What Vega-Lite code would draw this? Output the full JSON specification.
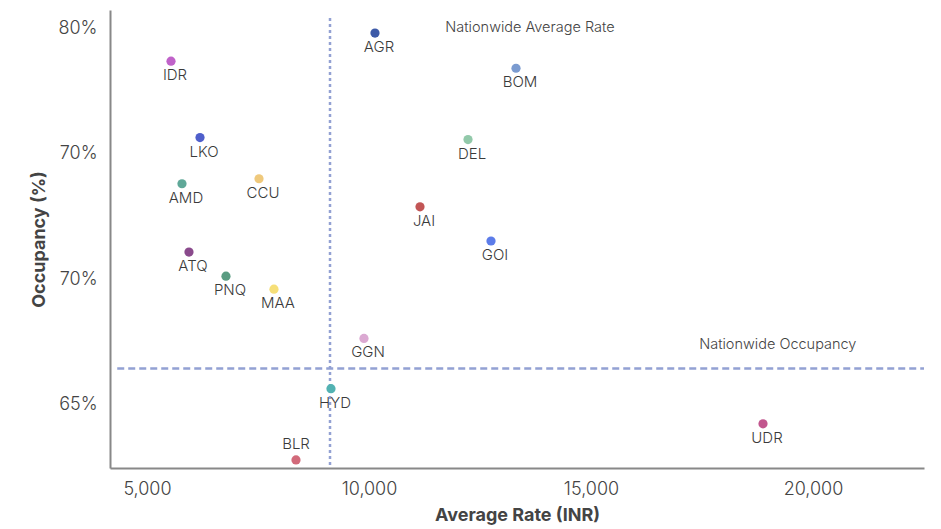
{
  "$schema": "https://vega.github.io/schema/vega-lite/v6.json",
  "width": 814,
  "height": 458,
  "autosize": "none",
  "padding": {"left": 110, "top": 10, "right": 17, "bottom": 61},
  "background": "white",
  "config": {"view": {"stroke": null}, "font": "Inter"},
  "datasets": {
    "cities": [
      {"code": "IDR", "rate": 5541, "occ": 0.7868},
      {"code": "LKO", "rate": 6194, "occ": 0.7564},
      {"code": "AMD", "rate": 5788, "occ": 0.738},
      {"code": "CCU", "rate": 7523, "occ": 0.740},
      {"code": "ATQ", "rate": 5946, "occ": 0.7108},
      {"code": "PNQ", "rate": 6779, "occ": 0.7012},
      {"code": "MAA", "rate": 7860, "occ": 0.696},
      {"code": "AGR", "rate": 10135, "occ": 0.798},
      {"code": "BOM", "rate": 13311, "occ": 0.784},
      {"code": "DEL", "rate": 12230, "occ": 0.7556},
      {"code": "JAI", "rate": 11149, "occ": 0.7288},
      {"code": "GOI", "rate": 12748, "occ": 0.7152},
      {"code": "GGN", "rate": 9887, "occ": 0.6764},
      {"code": "HYD", "rate": 9144, "occ": 0.6564},
      {"code": "BLR", "rate": 8356, "occ": 0.628},
      {"code": "UDR", "rate": 18874, "occ": 0.6424}
    ],
    "avgRate": [{"rate": 9122, "top": 0.804, "bottom": 0.6248, "label": "Nationwide Average Rate", "lx": 13625, "ly": 0.8}],
    "avgOcc": [{"occ": 0.6644, "x1": 4330, "x2": 22500, "label": "Nationwide Occupancy", "lx": 19207, "ly": 0.6739}]
  },
  "layer": [
    {
      "data": {"name": "avgRate"},
      "mark": {"type": "rule", "color": "#93a1d3", "strokeWidth": 2.5, "strokeDash": [3, 3]},
      "encoding": {
        "x": {"field": "rate", "type": "quantitative", "scale": {"domain": [4167, 22500], "nice": false, "zero": false},
          "axis": {"title": "Average Rate (INR)", "values": [5000, 10000, 15000, 20000], "format": ",.0f", "labelFont": "Inter", "labelFontSize": 18, "labelFontWeight": 300, "labelColor": "#444", "labelPadding": 12, "ticks": false, "grid": false, "domainColor": "#888", "domainWidth": 2, "titleFont": "Inter", "titleFontSize": 18, "titleFontWeight": "bold", "titleColor": "#444", "titlePadding": 8}},
        "y": {"field": "top", "type": "quantitative", "scale": {"domain": [0.6248, 0.8072], "nice": false, "zero": false},
          "axis": {"title": "Occupancy (%)", "values": [0.65, 0.70, 0.75, 0.80], "labelExpr": "datum.value > 0.74 && datum.value < 0.76 ? '70%' : format(datum.value, '.0%')", "labelFont": "Inter", "labelFontSize": 18, "labelFontWeight": 300, "labelColor": "#444", "labelPadding": 13, "ticks": false, "grid": false, "domainColor": "#888", "domainWidth": 2, "titleFont": "Inter", "titleFontSize": 18, "titleFontWeight": "bold", "titleColor": "#444", "titlePadding": 10}},
        "y2": {"field": "bottom"}
      }
    },
    {
      "data": {"name": "avgRate"},
      "mark": {"type": "text", "fontSize": 14.5, "color": "#444", "font": "Inter", "fontWeight": 300},
      "encoding": {
        "x": {"field": "lx", "type": "quantitative"},
        "y": {"field": "ly", "type": "quantitative"},
        "text": {"field": "label"}
      }
    },
    {
      "data": {"name": "avgOcc"},
      "mark": {"type": "rule", "color": "#93a1d3", "strokeWidth": 2.5, "strokeDash": [7, 4]},
      "encoding": {
        "x": {"field": "x1", "type": "quantitative"},
        "x2": {"field": "x2"},
        "y": {"field": "occ", "type": "quantitative"}
      }
    },
    {
      "data": {"name": "avgOcc"},
      "mark": {"type": "text", "fontSize": 14.5, "color": "#444", "font": "Inter", "fontWeight": 300},
      "encoding": {
        "x": {"field": "lx", "type": "quantitative"},
        "y": {"field": "ly", "type": "quantitative"},
        "text": {"field": "label"}
      }
    },
    {
      "data": {"name": "cities"},
      "mark": {"type": "circle", "size": 85, "opacity": 1},
      "encoding": {
        "x": {"field": "rate", "type": "quantitative"},
        "y": {"field": "occ", "type": "quantitative"},
        "color": {"field": "code", "type": "nominal", "legend": null,
          "scale": {
            "domain": ["IDR", "LKO", "AMD", "CCU", "ATQ", "PNQ", "MAA", "AGR", "BOM", "DEL", "JAI", "GOI", "GGN", "HYD", "BLR", "UDR"],
            "range": ["#c062c9", "#4f5fcb", "#5fa898", "#efc97c", "#8a4a8c", "#5a9c82", "#f6df78", "#3d5aa8", "#7b9bd0", "#92c9aa", "#c25555", "#5c7ce9", "#dba9d2", "#52b2b2", "#d26a7a", "#c2568e"]
          }}
      }
    },
    {
      "data": {"name": "cities"},
      "transform": [{"filter": "datum.code !== 'BLR'"}],
      "mark": {"type": "text", "fontSize": 15, "color": "#3a3a3a", "font": "Inter", "fontWeight": 300, "dy": 14, "dx": 4},
      "encoding": {
        "x": {"field": "rate", "type": "quantitative"},
        "y": {"field": "occ", "type": "quantitative"},
        "text": {"field": "code"}
      }
    },
    {
      "data": {"name": "cities"},
      "transform": [{"filter": "datum.code === 'BLR'"}],
      "mark": {"type": "text", "fontSize": 15, "color": "#3a3a3a", "font": "Inter", "fontWeight": 300, "dy": -16},
      "encoding": {
        "x": {"field": "rate", "type": "quantitative"},
        "y": {"field": "occ", "type": "quantitative"},
        "text": {"field": "code"}
      }
    }
  ]
}
